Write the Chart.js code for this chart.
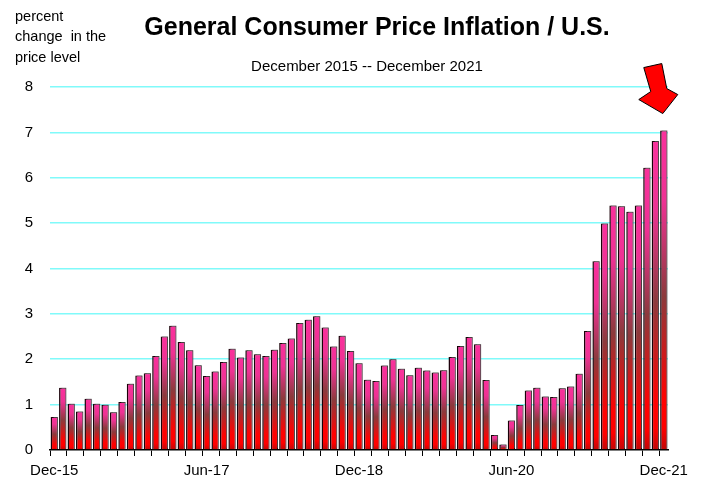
<!DOCTYPE html>
<html>
<head>
<meta charset="utf-8">
<script src="https://cdn.jsdelivr.net/npm/chart.js@4/dist/chart.umd.min.js"></script>
<style>
  html, body { margin: 0; padding: 0; background: #ffffff; }
  #wrap { width: 704px; height: 482px; position: relative; }
</style>
</head>
<body>
<div id="wrap"><canvas id="c" width="704" height="482"></canvas></div>
<script>
// ---- data ----
const months = [
  "Dec-15",
  "Jan-16","Feb-16","Mar-16","Apr-16","May-16","Jun-16","Jul-16","Aug-16","Sep-16","Oct-16","Nov-16","Dec-16",
  "Jan-17","Feb-17","Mar-17","Apr-17","May-17","Jun-17","Jul-17","Aug-17","Sep-17","Oct-17","Nov-17","Dec-17",
  "Jan-18","Feb-18","Mar-18","Apr-18","May-18","Jun-18","Jul-18","Aug-18","Sep-18","Oct-18","Nov-18","Dec-18",
  "Jan-19","Feb-19","Mar-19","Apr-19","May-19","Jun-19","Jul-19","Aug-19","Sep-19","Oct-19","Nov-19","Dec-19",
  "Jan-20","Feb-20","Mar-20","Apr-20","May-20","Jun-20","Jul-20","Aug-20","Sep-20","Oct-20","Nov-20","Dec-20",
  "Jan-21","Feb-21","Mar-21","Apr-21","May-21","Jun-21","Jul-21","Aug-21","Sep-21","Oct-21","Nov-21","Dec-21"
];
const inflation = [
  0.73,
  1.37, 1.02, 0.85, 1.13, 1.02, 1.00, 0.83, 1.06, 1.46, 1.64, 1.69, 2.07,
  2.50, 2.74, 2.38, 2.20, 1.87, 1.63, 1.73, 1.94, 2.23, 2.04, 2.20, 2.11,
  2.07, 2.21, 2.36, 2.46, 2.80, 2.87, 2.95, 2.70, 2.28, 2.52, 2.18, 1.91,
  1.55, 1.52, 1.86, 2.00, 1.79, 1.65, 1.81, 1.75, 1.71, 1.76, 2.05, 2.29,
  2.49, 2.33, 1.54, 0.33, 0.12, 0.65, 0.99, 1.31, 1.37, 1.18, 1.17, 1.36,
  1.40, 1.68, 2.62, 4.16, 4.99, 5.39, 5.37, 5.25, 5.39, 6.22, 6.81, 7.04
];
const shownTickLabels = ["Dec-15", "Jun-17", "Dec-18", "Jun-20", "Dec-21"];
const yTicks = [0, 1, 2, 3, 4, 5, 6, 7, 8];
const titleText = "General Consumer Price Inflation / U.S.";
const subtitleText = "December 2015 -- December 2021";
const unitLines = ["percent", "change  in the", "price level"];

const FONT = "'Liberation Sans', Arial, Helvetica, sans-serif";

function barGradient(ctx) {
  const chart = ctx.chart;
  if (!chart.chartArea || ctx.type !== 'data') return '#ee3390';
  const ys = chart.scales.y;
  const v = ctx.raw;
  const yTop = ys.getPixelForValue(v);
  const yBot = ys.getPixelForValue(0);
  if (!isFinite(yTop) || !isFinite(yBot) || yBot - yTop < 1) return '#ee3390';
  const g = chart.ctx.createLinearGradient(0, yTop, 0, yBot);
  g.addColorStop(0.00, '#fa309c');
  g.addColorStop(0.22, '#ee3294');
  g.addColorStop(0.52, '#8c3a3c');
  g.addColorStop(0.84, '#ff0202');
  g.addColorStop(0.93, '#ff0000');
  g.addColorStop(1.00, '#c00808');
  return g;
}

const decorPlugin = {
  id: 'decor',
  beforeDatasetsDraw(chart) {
    const c = chart.ctx;
    c.save();
    c.shadowColor = 'rgba(110,110,110,0.55)';
    c.shadowOffsetX = 1.5;
    c.shadowOffsetY = -1;
    c.shadowBlur = 0;
  },
  afterDatasetsDraw(chart) {
    chart.ctx.restore();
  },
  afterDraw(chart) {
    const c = chart.ctx;
    c.save();
    c.fillStyle = '#000';
    c.textBaseline = 'alphabetic';
    // title
    c.font = 'bold 25px ' + FONT;
    c.textAlign = 'center';
    c.fillText(titleText, 377, 35);
    // subtitle
    c.font = '15px ' + FONT;
    c.fillText(subtitleText, 367, 71);
    // unit label
    c.font = '14.5px ' + FONT;
    c.textAlign = 'left';
    const bl = [21, 41, 62];
    unitLines.forEach((t, i) => c.fillText(t, 15, bl[i]));

    // arrow pointing at the last bar
    const meta = chart.getDatasetMeta(0);
    const last = meta.data[meta.data.length - 1];
    if (last) {
      const tx = last.x - 1;
      const ty = last.y - 17;
      const pts = [
        [0, 0], [-24, -14], [-12, -22], [-19, -46], [-1, -50], [4, -25], [15, -19]
      ];
      c.beginPath();
      pts.forEach((p, i) => {
        const x = tx + p[0], y = ty + p[1];
        if (i === 0) c.moveTo(x, y); else c.lineTo(x, y);
      });
      c.closePath();
      c.fillStyle = '#ff0000';
      c.fill();
      c.lineWidth = 1;
      c.lineJoin = 'miter';
      c.strokeStyle = '#000';
      c.stroke();
    }
    c.restore();
  }
};

new Chart(document.getElementById('c'), {
  type: 'bar',
  data: {
    labels: months,
    datasets: [{
      data: inflation,
      backgroundColor: barGradient,
      borderColor: '#1a0008',
      borderWidth: { top: 1, right: 1, bottom: 0, left: 1.5 },
      borderSkipped: false,
      categoryPercentage: 1.0,
      barPercentage: 0.86
    }]
  },
  options: {
    responsive: false,
    animation: false,
    devicePixelRatio: 1,
    layout: { padding: { left: 0, right: 36, top: 87, bottom: 0 } },
    plugins: {
      legend: { display: false },
      title: { display: false },
      tooltip: { enabled: false }
    },
    scales: {
      x: {
        offset: true,
        grid: {
          offset: true,
          drawOnChartArea: false,
          drawTicks: true,
          tickLength: 6,
          lineWidth: 1,
          color: (ctx) => (ctx.index % 2 === 0 ? '#000000' : 'rgba(0,0,0,0)')
        },
        border: { display: true, color: '#000000', width: 1.5 },
        ticks: {
          autoSkip: false,
          maxRotation: 0,
          minRotation: 0,
          padding: 6,
          color: '#000',
          font: { family: FONT, size: 15 },
          callback: function (value, index) {
            const lab = months[index];
            return shownTickLabels.includes(lab) ? lab : '';
          }
        },
        afterFit: (scale) => { scale.height = 32; }
      },
      y: {
        min: yTicks[0],
        max: yTicks[yTicks.length - 1],
        afterBuildTicks: (scale) => { scale.ticks = yTicks.map(v => ({ value: v })); },
        grid: {
          drawTicks: false,
          lineWidth: 1.6,
          color: (ctx) => (ctx.tick && ctx.tick.value === 0 ? 'rgba(0,0,0,0)' : '#80fafa')
        },
        border: { display: false },
        ticks: {
          padding: 17,
          color: '#000',
          font: { family: FONT, size: 15 },
          callback: (v) => String(v)
        },
        afterFit: (scale) => { scale.width = 50; }
      }
    }
  },
  plugins: [decorPlugin]
});
</script>
</body>
</html>
